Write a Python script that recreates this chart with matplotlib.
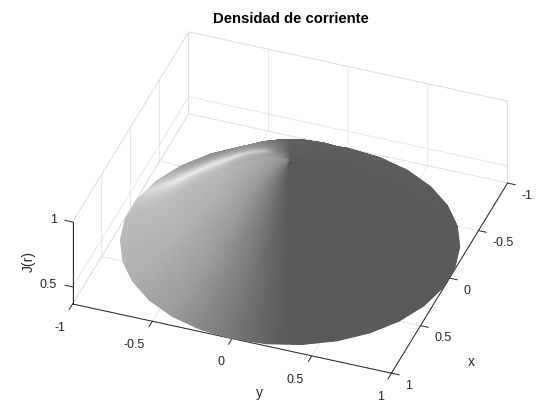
import numpy as np
import matplotlib
matplotlib.use("Agg")
import matplotlib.pyplot as plt

plt.rcParams['font.family'] = ['Liberation Sans', 'DejaVu Sans']

# J(r)
r_nodes = [0, 0.1, 0.2, 0.3, 0.4, 0.5, 0.6, 0.7, 0.8, 0.9, 1.0]
j_nodes = [1.0, 0.99, 0.96, 0.914, 0.852, 0.78, 0.70, 0.613, 0.527, 0.445, 0.368]
n_rim = 30

# grey level against direction on screen (0 = towards viewer, -90 = left)
psi_nodes = [-180, -165, -150, -135, -120, -105, -90, -70, -45, -25, -10, 0, 90, 180]
gray_nodes = [0.38, 0.48, 0.58, 0.66, 0.72, 0.74, 0.73, 0.70, 0.62, 0.50, 0.40, 0.35, 0.35, 0.38]
# how strongly the shading shows with radius
tilt_r = [0, 0.05, 0.1, 0.2, 0.4, 0.7, 1.0]
tilt_gain = [0.5, 0.6, 0.7, 0.82, 0.95, 1.0, 0.97]
# the bright streak
streak_r = [0, 0.14, 0.22, 0.45, 0.75, 1.0]
streak_psi = [-138, -138, -136, -123, -120, -120]
streak_gain = [0, 0, 0.75, 1.0, 1.0, 0.6]
streak_u = [-18, -9, -4, 0, 4, 9, 18]
streak_add = [0, 0.07, 0.16, 0.22, 0.15, 0.06, 0]

x_ticks = [-1, -0.5, 0, 0.5, 1]
y_ticks = [-1, -0.5, 0, 0.5, 1]
z_ticks = [0.5, 1]
tick_text = ['-1', '-0.5', '0', '0.5', '1']
z_text = ['0.5', '1']

elev = 36.6
azim = 20

fig = plt.figure(figsize=(5.6, 4.2), dpi=100)
ax = fig.add_axes([4.4 / 560, 1.8 / 420, 1, 1], projection='3d', proj_type='ortho', computed_zorder=False)
ax.set_box_aspect((1, 1, 102 / 339), zoom=1.134)
ax.view_init(elev=elev, azim=azim)

# fine mesh on the coarse polygon rim, gouraud look
theta_rim = np.deg2rad(np.arange(n_rim + 1) * 360 / n_rim)
sub = 10
idx = np.arange(n_rim * sub + 1) / sub
rim_x = np.interp(idx, np.arange(n_rim + 1), np.cos(theta_rim))
rim_y = np.interp(idx, np.arange(n_rim + 1), np.sin(theta_rim))
rr = np.linspace(0, 1, 61)
jj = np.interp(rr, r_nodes, j_nodes)
X = np.outer(rr, rim_x)
Y = np.outer(rr, rim_y)
Z = np.outer(jj, np.ones_like(rim_x))

Rr = np.hypot(X, Y)
psi = (np.rad2deg(np.arctan2(Y, X)) - azim + 180) % 360 - 180
gray = 0.35 + (np.interp(psi, psi_nodes, gray_nodes) - 0.35) * np.interp(Rr, tilt_r, tilt_gain)
u = psi - np.interp(Rr, streak_r, streak_psi)
gray = gray + np.interp(u, streak_u, streak_add) * np.interp(Rr, streak_r, streak_gain)
gray = np.clip(gray, 0, 1)
# colours per face
g = (gray[:-1, :-1] + gray[1:, :-1] + gray[:-1, 1:] + gray[1:, 1:]) / 4
g = np.vstack([g, g[-1:]])
g = np.hstack([g, g[:, -1:]])
cols = np.dstack([g, g, g])

surf = ax.plot_surface(X, Y, Z, facecolors=cols, rstride=1, cstride=1, shade=False,
                       linewidth=0.8, antialiased=True, zorder=3)

ax.plot([0], [0], [1], marker='o', ms=2.2, color='#555555', mew=0, zorder=4)

ax.set_xlim(-1, 1)
ax.set_ylim(-1, 1)
ax.set_zlim(0.368, 1)
ax.set_xticks(x_ticks)
ax.set_xticklabels(tick_text, ha='left')
ax.set_yticks(y_ticks)
ax.set_yticklabels(tick_text, ha='right')
ax.set_zticks(z_ticks)
ax.set_zticklabels(z_text, ha='right', va='bottom')
ax.tick_params(labelsize=9, colors='#262626')
ax.xaxis.set_tick_params(pad=-1.2)
ax.yaxis.set_tick_params(pad=2.3)
ax.zaxis.set_tick_params(pad=-2.2)

# z ticks point along y here, not along x
ax.zaxis._get_tickdir = lambda pos: 1

for axis, out_factor in ((ax.xaxis, -0.3), (ax.yaxis, -0.37), (ax.zaxis, 0.3)):
    axis.set_pane_color((1, 1, 1, 1))
    axis.pane.set_edgecolor('#dedede')
    axis.pane.set_linewidth(0.5)
    axis.line.set_color('#262626')
    axis.line.set_linewidth(0.7)
    axis._axinfo['grid'].update(color='#dedede', linewidth=0.5)
    axis._axinfo['tick'].update(inward_factor=0, outward_factor=out_factor, linewidth={True: 0.7, False: 0.7})

fig.text(291 / 560, 1 - 19 / 420, 'Densidad de corriente', fontsize=10.7, fontweight='bold',
         ha='center', va='center', color='k')
fig.text(471 / 560, 1 - 362 / 420, 'x', fontsize=10, ha='center', va='center', color='#262626')
fig.text(259 / 560, 1 - 393 / 420, 'y', fontsize=10, ha='center', va='center', color='#262626')
fig.text(29 / 560, 1 - 262 / 420, 'J(r)', fontsize=10, rotation=90, ha='center', va='center', color='#262626')

fig.savefig('out.png', dpi=100)
